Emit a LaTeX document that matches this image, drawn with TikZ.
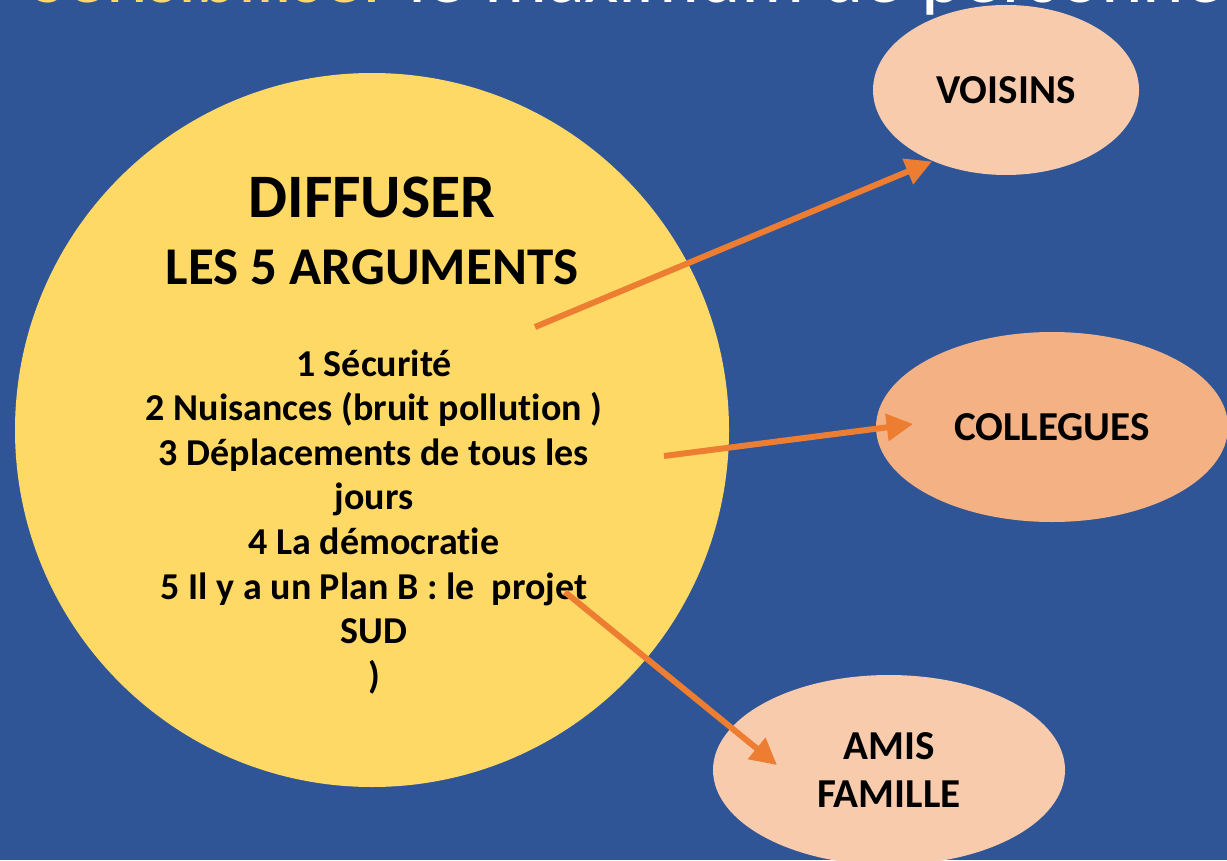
\documentclass[tikz,border=0pt]{standalone}
\usepackage{fontspec}
\setmainfont{Carlito}[Ligatures=NoCommon,Contextuals=NoAlternate]
\usetikzlibrary{arrows.meta,shapes.geometric}
\definecolor{fond}{HTML}{2F5597}
\definecolor{jaune}{HTML}{FFD966}
\definecolor{peche}{HTML}{F8CBAD}
\definecolor{saumon}{HTML}{F4B183}
\definecolor{fleche}{HTML}{ED7D31}
\begin{document}
\begin{tikzpicture}[x=0.1mm,y=-0.1mm,
		cible/.style={ellipse,inner sep=0pt,align=center,
			font=\bfseries\fontsize{11.7}{13.9}\selectfont},
		lien/.style={line width=1.7pt,fleche,-{Triangle[length=7.5pt,width=7.5pt]}}]
		% fond
		\useasboundingbox (0,0) rectangle (1227,860);
		\fill[fond] (0,0) rectangle (1227,860);
		\clip (0,0) rectangle (1227,860);
		
		% titre (coupe en haut)
		\node[anchor=base west,text=white,inner sep=0pt,
		font=\fontsize{22.5}{27}\selectfont] (titre) at (30,3)
		{\textcolor{jaune}{Sensibiliser} le maximum de personnes};
		
		% cercle central
		\node[circle,fill=jaune,minimum size=71.4mm] (diffuser) at (372,430) {};
		\node[anchor=base,font=\bfseries\fontsize{17.6}{20}\selectfont] (t1) at (372,218) {DIFFUSER};
		\node[anchor=base,font=\bfseries\fontsize{15.1}{18}\selectfont] (t2) at (372,285) {LES 5 ARGUMENTS};
		\foreach \ligne [count=\i] in {1 Sécurité,2 Nuisances (bruit pollution ),
			3 Déplacements de tous les,jours,4 La démocratie,
			5 Il y a un Plan B : le\ \ projet,SUD,)}
		\node[anchor=base,font=\bfseries\fontsize{10.8}{12.8}\selectfont]
		(arg\i) at (374,{376+44.6*(\i-1)}) {\ligne};
		
		% cibles
		\node[cible,fill=peche,minimum width=26.6mm,minimum height=17mm] (voisins) at (1006,90) {VOISINS};
		\node[cible,fill=saumon,minimum width=35.2mm,minimum height=19mm] (collegues) at (1052,427) {COLLEGUES};
		\node[cible,fill=peche,minimum width=35.2mm,minimum height=19mm] (amis) at (889,770) {AMIS\\FAMILLE};
		
		% fleches
		\coordinate (d1) at (535,327);
		\coordinate (d2) at (664,456);
		\coordinate (d3) at (565,592);
		\coordinate (f2) at (913,424);
		\coordinate (f3) at (777,765);
		\draw[lien] (d1) -- (voisins.224);
		\draw[lien] (d2) -- (f2);
		\draw[lien] (d3) -- (f3);
	\end{tikzpicture}
\end{document}
